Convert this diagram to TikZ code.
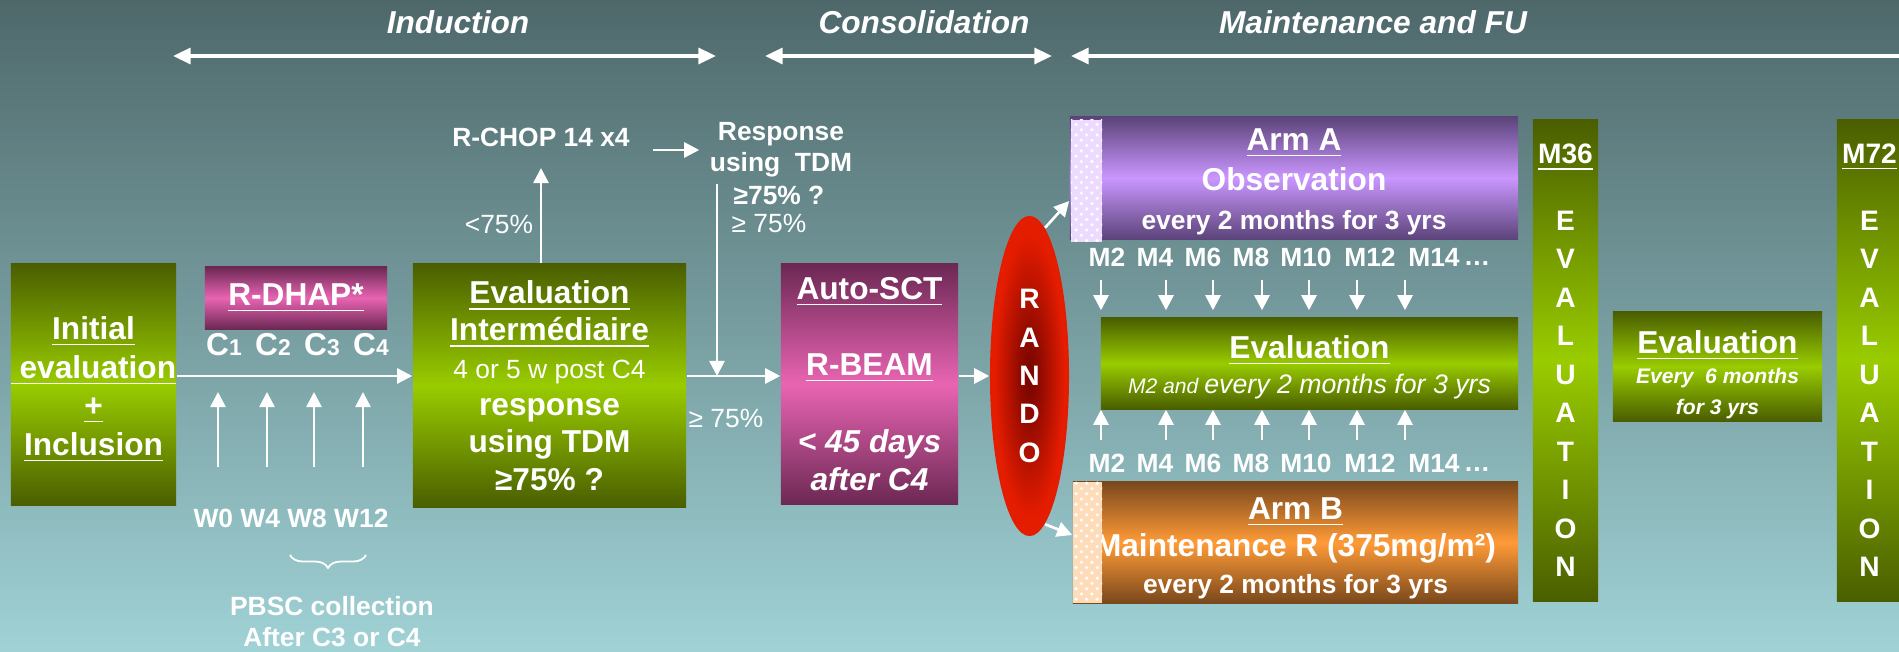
\documentclass[tikz,border=0pt]{standalone}
\usepackage{fontspec}
\setmainfont{Liberation Sans}
\usetikzlibrary{arrows.meta,shapes.geometric,decorations.pathreplacing,patterns}

\definecolor{bgtop}{RGB}{78,104,106}
\definecolor{bgbot}{RGB}{160,210,214}
\definecolor{gdark}{RGB}{74,94,0}
\definecolor{glight}{RGB}{153,204,0}
\definecolor{pdark}{RGB}{108,40,84}
\definecolor{plight}{RGB}{232,100,178}
\definecolor{vdark}{RGB}{92,68,122}
\definecolor{vlight}{RGB}{202,150,255}
\definecolor{odark}{RGB}{122,72,28}
\definecolor{olight}{RGB}{255,155,55}
\definecolor{rdark}{RGB}{120,5,0}
\definecolor{rlight}{RGB}{228,28,0}

\pgfdeclareverticalshading{greenbar}{100bp}{color(0bp)=(gdark); color(25bp)=(gdark); color(50bp)=(glight); color(75bp)=(gdark); color(100bp)=(gdark)}
\pgfdeclareverticalshading{pinkbar}{100bp}{color(0bp)=(pdark); color(25bp)=(pdark); color(50bp)=(plight); color(75bp)=(pdark); color(100bp)=(pdark)}
\pgfdeclareverticalshading{violetbar}{100bp}{color(0bp)=(vdark); color(25bp)=(vdark); color(50bp)=(vlight); color(75bp)=(vdark); color(100bp)=(vdark)}
\pgfdeclareverticalshading{orangebar}{100bp}{color(0bp)=(odark); color(25bp)=(odark); color(50bp)=(olight); color(75bp)=(odark); color(100bp)=(odark)}
\pgfdeclareradialshading{redball}{\pgfpoint{0bp}{0bp}}{color(0bp)=(rdark); color(6bp)=(rdark!80!rlight); color(22bp)=(rlight); color(50bp)=(rlight)}

\begin{document}
\begin{tikzpicture}[x=0.01cm, y=-0.01cm,
  every node/.style={text=white, inner sep=0pt},
  phasetext/.style={font=\bfseries\itshape\fontsize{9}{11}\selectfont},
  midtext/.style={font=\bfseries\fontsize{7.5}{8.8}\selectfont, align=center},
  thintext/.style={font=\fontsize{7.5}{8.8}\selectfont},
  boxtext/.style={align=center, font=\bfseries\fontsize{9}{11}\selectfont},
  greenbox/.style={boxtext, shading=greenbar},
  pinkbox/.style={boxtext, shading=pinkbar},
  violetbox/.style={boxtext, shading=violetbar},
  orangebox/.style={boxtext, shading=orangebar},
  spanline/.style={white, line width=1pt, {Triangle[length=5pt,width=4.5pt]}-{Triangle[length=5pt,width=4.5pt]}},
  flowline/.style={white, line width=0.75pt, -{Triangle[length=4.3pt,width=4.3pt]}}]

  \useasboundingbox (0,0) rectangle (1899,652);
  \shade[top color=bgtop, bottom color=bgbot] (0,0) rectangle (1899,652);

  % phases
  \node[phasetext] (induction) at (458,22) {Induction};
  \node[phasetext] (consolidation) at (924,22) {Consolidation};
  \node[phasetext] (maintenance) at (1373,22) {Maintenance and FU};
  \coordinate (ind-a) at (173,56);
  \coordinate (ind-b) at (716,56);
  \coordinate (con-a) at (765,56);
  \coordinate (con-b) at (1052,56);
  \coordinate (mnt-a) at (1071,56);
  \coordinate (mnt-b) at (1899,56);
  \draw[spanline] (ind-a) -- (ind-b);
  \draw[spanline] (con-a) -- (con-b);
  \draw[white, line width=1pt, {Triangle[length=5pt,width=4.5pt]}-] (mnt-a) -- (mnt-b);

  % nodes
  \coordinate (mainrow) at (0,376);
  \node[greenbox, minimum width=1.61cm, minimum height=2.41cm] (initial) at (93.5,384.5)
    {\rule{0pt}{9.4pt}\underline{Initial}\\\underline{\ evaluation}\\\underline{+}\\\underline{Inclusion}};
  \node[pinkbox, minimum width=1.82cm, minimum height=0.62cm] (rdhap) at (296,298) {\underline{R-DHAP*}};
  \foreach \i/\x in {1/224,2/273,3/322,4/371}
    \node[boxtext] (c\i) at (\x,345) {C{\fontsize{6.5}{7}\selectfont\i}};
  \node[midtext] (weeks) at (291,518) {W0 W4 W8 W12};
  \node[midtext] (pbsc) at (332,622) {PBSC collection\\After C3 or C4};
  \node[greenbox, font=\bfseries\fontsize{9}{10.6}\selectfont, minimum width=2.73cm, minimum height=2.43cm] (evalint) at (549.5,385.5)
    {\underline{Evaluation}\\\underline{Intermédiaire}\\{\mdseries\fontsize{7.5}{10}\selectfont 4 or 5 w post C4}\\response\\using TDM\\≥75\% ?};
  \node[midtext] (rchop) at (541,137) {R-CHOP 14 x4};
  \node[thintext] (lt75) at (499,224) {<75\%};
  \node[midtext] (response) at (781,150) {Response\\using\ \ TDM};
  \node[midtext] (geq) at (779,195) {≥75\% ?};
  \node[thintext] (geqb) at (769,223) {≥ 75\%};
  \node[thintext] (geqc) at (726,418) {≥ 75\%};
  \node[pinkbox, font=\bfseries\fontsize{9}{10.9}\selectfont, minimum width=1.77cm, minimum height=2.40cm] (autosct) at (869.5,384)
    {\underline{Auto-SCT}\\[10.9pt]\underline{R-BEAM}\\[10.9pt]{\itshape < 45 days}\\{\itshape after C4}};
  \node[ellipse, shading=redball, align=center, font=\bfseries\fontsize{8}{10.9}\selectfont,
    minimum width=0.79cm, minimum height=3.2cm] (rando) at (1029.5,376) {R\\A\\N\\D\\O};
  \node[violetbox, font=\bfseries\fontsize{9}{11.2}\selectfont, minimum width=4.48cm, minimum height=1.22cm] (arma) at (1294,178)
    {\rule{0pt}{8.4pt}\underline{Arm A}\\Observation\\{\fontsize{7.5}{10}\selectfont every 2 months for 3 yrs}};
  \node[greenbox, font=\bfseries\fontsize{9}{10}\selectfont, minimum width=4.17cm, minimum height=0.91cm] (evalmid) at (1309.5,363.5)
    {\rule{0pt}{8.7pt}\underline{Evaluation}\\{\mdseries\itshape\fontsize{6}{8}\selectfont M2 and \fontsize{7.6}{9}\selectfont every 2 months for 3 yrs}};
  \node[orangebox, font=\bfseries\fontsize{9}{10.5}\selectfont, minimum width=4.45cm, minimum height=1.21cm] (armb) at (1295.5,542.5)
    {\rule{0pt}{9.4pt}\underline{Arm B}\\Maintenance R (375mg/m²)\\{\fontsize{7.5}{10}\selectfont every 2 months for 3 yrs}};
  \node[greenbox, font=\bfseries\fontsize{8}{10.95}\selectfont, minimum width=0.65cm, minimum height=4.81cm] (m36) at (1565.5,360.5)
    {\underline{M36}\\[8pt]E\\V\\A\\L\\U\\A\\T\\I\\O\\N};
  \node[greenbox, font=\bfseries\fontsize{9}{8.7}\selectfont, minimum width=2.09cm, minimum height=1.09cm] (evalright) at (1717.5,366.5)
    {\rule{0pt}{11pt}\underline{Evaluation}\\{\itshape\fontsize{6}{8}\selectfont Every\ \ 6 months}\\{\itshape\fontsize{6}{8}\selectfont for 3 yrs}};
  \node[greenbox, font=\bfseries\fontsize{8}{10.95}\selectfont, minimum width=0.65cm, minimum height=4.81cm] (m72) at (1869.5,360.5)
    {\underline{M72}\\[8pt]E\\V\\A\\L\\U\\A\\T\\I\\O\\N};

  % dotted strips
  \fill[vlight!35!white] (1071,120) rectangle (1102,242);
  \fill[pattern=crosshatch dots, pattern color=white] (1071,120) rectangle (1102,242);
  \fill[olight!35!white] (1073,482) rectangle (1102,603);
  \fill[pattern=crosshatch dots, pattern color=white] (1073,482) rectangle (1102,603);

  % months
  \foreach \m/\x in {2/1107,4/1155,6/1203,8/1251,10/1306,12/1370,14/1434} {
    \node[midtext] (mt\m) at (\x,257) {M\m};
    \node[midtext] (mb\m) at (\x,463) {M\m};
  }
  \node[midtext] (mtdots) at (1477,264) {…};
  \node[midtext] (mbdots) at (1477,470) {…};

  % arrows
  \draw[flowline] (initial.east |- mainrow) -- (evalint.west |- mainrow);
  \draw[flowline] (evalint.east |- mainrow) -- (autosct.west |- mainrow);
  \draw[flowline] (autosct.east |- mainrow) -- (rando.west |- mainrow);
  \foreach \i/\x in {0/218,4/267,8/314,12/363} {
    \coordinate (wk\i) at (\x,467);
    \draw[flowline, shorten >=0.16cm] (wk\i) -- (wk\i |- mainrow);
  }
  \draw[flowline, shorten >=0.21cm] (evalint.north -| rchop.south) -- (rchop.south);
  \draw[flowline, shorten <=0.23cm, shorten >=0.1cm] (rchop.east |- response.west) -- (response.west);
  \coordinate (tdmdown) at (717,184);
  \draw[flowline] (tdmdown) -- (tdmdown |- mainrow);
  \draw[flowline] (rando.84) -- ([yshift=-0.23cm]arma.west);
  \draw[flowline] (rando.-84) -- ([yshift=0.075cm]armb.west);
  \foreach \i/\x in {1/1101,2/1166,3/1213,4/1262,5/1309,6/1357,7/1405} {
    \coordinate (dn\i) at (\x,280);
    \draw[flowline, shorten >=0.07cm] (dn\i) -- (dn\i |- evalmid.north);
    \coordinate (up\i) at (\x,440);
    \draw[flowline] (up\i) -- (up\i |- evalmid.south);
  }

  % brace
  \draw[white, line width=0.5pt, decorate, decoration={brace, amplitude=0.13cm}] (366,555) -- (290,555);

\end{tikzpicture}
\end{document}
